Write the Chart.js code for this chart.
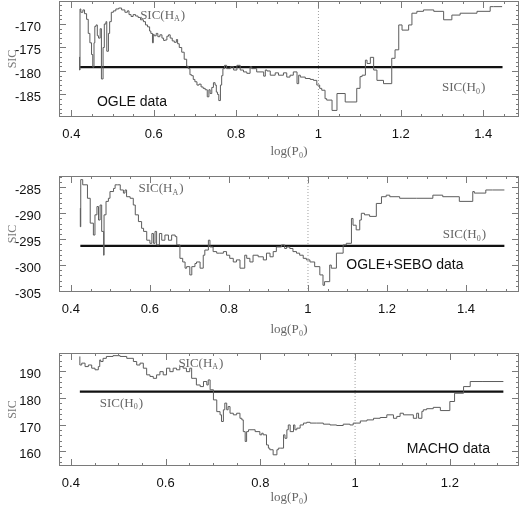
<!DOCTYPE html>
<html>
<head>
<meta charset="utf-8">
<script src="https://cdn.jsdelivr.net/npm/chart.js@4.4.1/dist/chart.umd.min.js"></script>
<style>
  html, body { margin: 0; padding: 0; background: #fff; }
  #wrap { position: relative; width: 524px; height: 509px; overflow: hidden; }
  canvas { position: absolute; left: 0; }
</style>
</head>
<body>
<div id="wrap">
  <canvas id="c1" width="524" height="165" style="top:0px"></canvas>
  <canvas id="c2" width="524" height="175" style="top:165px"></canvas>
  <canvas id="c3" width="524" height="169" style="top:340px"></canvas>
</div>
<script>
// ---- OGLE data ----
const ogleX = [0.420,0.421,0.423,0.428,0.432,0.437,0.441,0.445,0.449,0.452,
  0.455,0.457,0.460,0.463,0.466,0.470,0.473,0.477,0.480,0.484,
  0.486,0.490,0.493,0.497,0.502,0.508,0.515,0.522,0.530,0.536,
  0.540,0.545,0.550,0.556,0.562,0.568,0.575,0.580,0.585,0.590,
  0.593,0.597,0.599,0.601,0.606,0.610,0.615,0.620,0.624,0.628,
  0.632,0.636,0.640,0.645,0.650,0.655,0.658,0.662,0.668,0.674,
  0.680,0.684,0.688,0.692,0.696,0.700,0.705,0.710,0.715,0.720,
  0.725,0.730,0.734,0.737,0.741,0.745,0.749,0.752,0.755,0.758,
  0.762,0.765,0.768,0.772,0.777,0.786,0.794,0.802,0.810,0.818,
  0.826,0.834,0.838,0.850,0.867,0.871,0.875,0.883,0.895,0.903,
  0.915,0.923,0.931,0.939,0.948,0.952,0.956,0.968,0.980,0.988,
  0.996,1.003,1.008,1.016,1.020,1.033,1.045,1.065,1.093,1.101,
  1.106,1.114,1.118,1.126,1.134,1.142,1.158,1.178,1.186,1.195,
  1.203,1.219,1.227,1.239,1.255,1.280,1.304,1.324,1.344,1.385,
  1.417,1.425,1.446];
const ogleSIC = [-177.0,-179.8,-166.8,-167.5,-167.0,-167.8,-169.0,-172.0,-174.0,-176.5,
  -179.2,-174.0,-170.5,-170.2,-172.5,-173.0,-171.0,-181.7,-175.0,-170.0,
  -169.5,-175.8,-172.0,-169.5,-167.5,-167.2,-166.8,-166.6,-167.0,-167.5,
  -167.2,-168.0,-168.4,-168.0,-168.3,-168.6,-169.1,-169.5,-170.2,-170.6,
  -171.5,-172.0,-174.0,-172.2,-172.5,-172.0,-172.7,-172.3,-173.0,-173.5,
  -173.4,-172.6,-172.3,-173.0,-173.6,-173.9,-173.3,-174.2,-175.0,-176.0,
  -177.5,-179.0,-179.5,-180.8,-181.0,-181.8,-182.3,-183.0,-182.8,-183.4,
  -183.7,-184.0,-185.5,-184.0,-184.8,-183.5,-182.5,-183.0,-184.5,-185.0,
  -186.3,-183.0,-181.0,-179.5,-178.8,-179.5,-179.1,-179.8,-178.8,-179.8,
  -180.2,-180.5,-179.1,-179.5,-180.2,-181.1,-179.8,-180.0,-180.9,-180.4,
  -180.9,-180.4,-181.3,-180.9,-180.2,-182.7,-180.9,-181.3,-181.6,-181.8,
  -182.0,-183.0,-183.7,-184.1,-185.9,-186.2,-188.4,-184.8,-186.6,-183.7,
  -181.2,-180.9,-177.7,-178.4,-177.1,-179.8,-182.0,-182.7,-177.3,-175.5,
  -170.2,-171.3,-170.2,-167.7,-167.3,-167.0,-167.3,-169.1,-168.1,-167.7,
  -167.3,-166.3,-166.3];
const ogleH0 = -179.2;
const ogleH0Span = [0.421, 1.447];

// ---- OGLE+SEBO data ----
const seboX = [0.424,0.425,0.430,0.442,0.449,0.457,0.461,0.466,0.470,0.474,
  0.478,0.483,0.484,0.489,0.495,0.499,0.508,0.512,0.518,0.525,
  0.533,0.537,0.541,0.550,0.558,0.563,0.571,0.579,0.584,0.592,
  0.600,0.605,0.609,0.613,0.617,0.624,0.630,0.638,0.647,0.655,
  0.664,0.668,0.676,0.683,0.689,0.693,0.701,0.706,0.714,0.718,
  0.727,0.735,0.739,0.748,0.752,0.760,0.769,0.777,0.786,0.794,
  0.802,0.811,0.819,0.828,0.840,0.845,0.853,0.861,0.874,0.887,
  0.895,0.904,0.912,0.920,0.933,0.941,0.946,0.954,0.962,0.971,
  0.979,0.988,0.996,1.005,1.017,1.030,1.038,1.042,1.055,1.059,
  1.072,1.089,1.097,1.110,1.114,1.122,1.131,1.135,1.143,1.156,
  1.173,1.186,1.198,1.207,1.232,1.274,1.316,1.341,1.383,1.417,
  1.421,1.450,1.467,1.497];
const seboSIC = [-289.0,-292.6,-283.5,-284.5,-287.1,-291.9,-294.2,-290.3,-288.7,-291.3,
  -288.4,-293.5,-298.1,-290.3,-287.7,-287.1,-285.8,-285.2,-284.5,-284.5,
  -285.5,-286.1,-285.5,-286.8,-287.1,-288.4,-290.3,-291.6,-292.9,-293.5,
  -295.2,-295.8,-293.9,-295.8,-293.5,-296.1,-293.9,-295.2,-294.2,-295.2,
  -294.2,-294.5,-296.1,-298.7,-299.4,-300.6,-300.3,-301.9,-300.3,-299.7,
  -299.4,-300.6,-298.1,-297.1,-295.2,-296.5,-297.4,-297.7,-297.7,-297.4,
  -298.1,-298.7,-299.4,-299.0,-300.6,-298.1,-298.7,-299.4,-298.1,-298.4,
  -299.0,-297.7,-298.4,-297.4,-296.5,-296.1,-296.8,-296.5,-296.8,-297.4,
  -297.7,-298.1,-298.7,-299.0,-299.4,-300.3,-301.9,-303.9,-303.2,-300.0,
  -300.6,-297.7,-296.1,-295.8,-291.0,-292.3,-293.2,-291.3,-290.0,-290.3,
  -290.6,-288.1,-286.8,-286.5,-286.8,-287.1,-287.1,-286.5,-286.8,-287.7,
  -285.8,-286.1,-285.5,-285.5];
const seboH0 = -296.3;
const seboH0Span = [0.424, 1.497];

// ---- MACHO data ----
const machoX = [0.419,0.423,0.430,0.437,0.444,0.451,0.458,0.461,0.463,0.468,
  0.475,0.489,0.504,0.518,0.532,0.539,0.546,0.553,0.560,0.567,
  0.574,0.581,0.588,0.595,0.602,0.609,0.616,0.623,0.630,0.637,
  0.644,0.651,0.655,0.658,0.665,0.673,0.680,0.687,0.690,0.694,
  0.701,0.708,0.715,0.718,0.722,0.725,0.729,0.732,0.736,0.743,
  0.750,0.757,0.761,0.764,0.768,0.771,0.775,0.778,0.789,0.799,
  0.803,0.806,0.813,0.817,0.820,0.827,0.835,0.838,0.842,0.849,
  0.852,0.856,0.859,0.863,0.870,0.873,0.877,0.884,0.891,0.898,
  0.905,0.919,0.933,0.947,0.961,0.975,0.989,0.996,1.011,1.025,
  1.039,1.053,1.067,1.081,1.088,1.095,1.102,1.123,1.130,1.134,
  1.141,1.144,1.151,1.165,1.180,1.200,1.210,1.229,1.243,1.268,
  1.313];
const machoSIC = [195.6,192.4,193.1,191.8,192.4,191.2,190.6,191.8,194.3,193.7,
  194.9,195.6,195.9,195.6,194.9,193.7,192.4,193.1,191.2,188.7,
  188.1,187.4,188.7,189.9,188.7,191.2,189.9,191.2,190.6,191.8,
  191.2,189.9,191.2,187.4,187.4,184.9,184.3,186.2,184.9,186.8,
  183.1,179.3,174.9,173.7,171.2,175.6,178.1,175.6,176.8,174.3,
  173.7,174.3,172.4,171.8,167.4,163.7,167.4,168.1,168.1,167.4,
  166.2,166.8,166.2,162.4,161.2,160.6,158.7,160.6,161.2,161.2,
  166.2,164.9,168.1,169.9,167.4,169.9,168.1,168.7,169.9,170.6,
  170.9,170.6,170.6,170.2,169.9,169.7,170.2,169.9,170.6,171.4,
  171.8,172.4,172.7,173.7,172.4,173.1,174.3,173.7,172.4,174.3,
  172.4,175.0,175.6,176.0,176.5,175.3,178.7,181.8,184.3,186.2,
  186.2];
const machoH0 = 182.4;
const machoH0Span = [0.419, 1.313];

// axis ranges and tick labels
const ogleXRange = [0.370, 1.487], ogleYRange = [-189.8, -165.1];
const seboXRange = [0.370, 1.534], seboYRange = [-305.2, -282.8];
const machoXRange = [0.375, 1.346], machoYRange = [154.5, 196.9];
const ogleXTicks = [0.4, 0.6, 0.8, 1, 1.2, 1.4];
const seboXTicks = [0.4, 0.6, 0.8, 1, 1.2, 1.4];
const machoXTicks = [0.4, 0.6, 0.8, 1, 1.2];
const ogleYTicks = [-185, -180, -175, -170];
const seboYTicks = [-305, -300, -295, -290, -285];
const machoYTicks = [160, 170, 180, 190];

const serif = '"Liberation Serif", "DejaVu Serif", serif';
const sans = '"Liberation Sans", Arial, sans-serif';

// frame with inward ticks on all four sides, plus text labels
const framePlugin = {
  id: 'frame',
  afterDatasetsDraw(chart, args, opts) {
    const { ctx, chartArea: a, scales: { x, y } } = chart;
    ctx.save();
    ctx.strokeStyle = '#7a7a7a';
    ctx.lineWidth = 1;
    ctx.strokeRect(a.left + 0.5, a.top + 0.5, a.right - a.left - 1, a.bottom - a.top - 1);

    const tick = (vals, len, horiz) => {
      ctx.beginPath();
      vals.forEach(v => {
        if (horiz) {
          const px = Math.round(x.getPixelForValue(v)) + 0.5;
          if (px < a.left || px > a.right) return;
          ctx.moveTo(px, a.bottom); ctx.lineTo(px, a.bottom - len);
          ctx.moveTo(px, a.top); ctx.lineTo(px, a.top + len);
        } else {
          const py = Math.round(y.getPixelForValue(v)) + 0.5;
          if (py < a.top || py > a.bottom) return;
          ctx.moveTo(a.left, py); ctx.lineTo(a.left + len, py);
          ctx.moveTo(a.right, py); ctx.lineTo(a.right - len, py);
        }
      });
      ctx.stroke();
    };
    const steps = (min, max, step) => {
      const out = [];
      for (let v = Math.ceil(min / step) * step; v <= max + 1e-9; v += step) out.push(+v.toFixed(6));
      return out;
    };
    tick(steps(x.min, x.max, opts.xMinor), 3, true);
    tick(steps(x.min, x.max, opts.xMajor), 7, true);
    tick(steps(y.min, y.max, opts.yMinor), 3, false);
    tick(steps(y.min, y.max, opts.yMajor), 7, false);

    ctx.textBaseline = 'middle';
    ctx.textAlign = 'left';
    (opts.notes || []).forEach(n => {
      let px = x.getPixelForValue(n.x);
      const py = y.getPixelForValue(n.y);
      if (n.sub !== undefined) {
        ctx.fillStyle = '#666';
        ctx.font = '13px ' + serif;
        ctx.fillText('SIC(H', px, py);
        px += ctx.measureText('SIC(H').width;
        ctx.font = '8px ' + serif;
        ctx.fillText(n.sub, px, py + 4);
        px += ctx.measureText(n.sub).width + 1;
        ctx.font = '13px ' + serif;
        ctx.fillText(')', px, py);
      } else {
        ctx.fillStyle = '#111';
        ctx.font = '14px ' + sans;
        ctx.fillText(n.text, px, py);
      }
    });
    ctx.restore();
  }
};

function makePanel(id, p) {
  const curve = p.xs.map((v, i) => ({ x: v, y: p.ys[i] }));
  return new Chart(document.getElementById(id), {
    type: 'line',
    data: {
      datasets: [
        { data: curve, borderColor: '#5c5c5c', borderWidth: 1, pointRadius: 0, stepped: 'after' },
        { data: [{ x: p.h0Span[0], y: p.h0 }, { x: p.h0Span[1], y: p.h0 }],
          borderColor: '#111', borderWidth: 2.2, pointRadius: 0 },
        { data: [{ x: 1, y: p.yRange[0] }, { x: 1, y: p.yRange[1] }],
          borderColor: '#a0a0a0', borderWidth: 1, borderDash: [1, 2], pointRadius: 0 }
      ]
    },
    options: {
      responsive: false,
      animation: false,
      devicePixelRatio: 1,
      layout: { padding: { top: p.padTop, right: 5, left: 0, bottom: 0 } },
      plugins: {
        legend: { display: false },
        tooltip: { enabled: false },
        frame: { xMinor: 0.05, xMajor: 0.2, yMinor: p.yMinor, yMajor: p.yMajor, notes: p.notes }
      },
      scales: {
        x: {
          type: 'linear', min: p.xRange[0], max: p.xRange[1],
          grid: { display: false }, border: { display: false },
          afterBuildTicks: s => { s.ticks = p.xTicks.map(v => ({ value: v })); },
          afterFit: s => { s.height = p.xAxisH; s.paddingLeft = 0; s.paddingRight = 0; },
          ticks: { padding: 2, color: '#111', autoSkip: false, maxRotation: 0,
                   font: { family: sans, size: 13 }, callback: v => String(v) },
          title: { display: true, text: 'log(P₀)', color: '#666',
                   font: { family: serif, size: 13 }, padding: { top: 0, bottom: p.titlePad } }
        },
        y: {
          type: 'linear', min: p.yRange[0], max: p.yRange[1],
          grid: { display: false }, border: { display: false },
          afterBuildTicks: s => { s.ticks = p.yTicks.map(v => ({ value: v })); },
          afterFit: s => { s.width = 59; s.paddingTop = 0; s.paddingBottom = 0; },
          // empty first line nudges each label a few pixels below its tick, as in the original
          ticks: { padding: 10, color: '#111', font: { family: sans, size: 13, lineHeight: 0.5 },
                   callback: v => ['', String(v)] },
          title: { display: true, text: 'SIC', color: '#777',
                   font: { family: serif, size: 12 }, padding: { top: 6, bottom: 0 } }
        }
      }
    },
    plugins: [framePlugin]
  });
}

makePanel('c1', {
  xs: ogleX, ys: ogleSIC, h0: ogleH0, h0Span: ogleH0Span,
  xRange: ogleXRange, yRange: ogleYRange, xTicks: ogleXTicks, yTicks: ogleYTicks,
  yMinor: 1, yMajor: 5, padTop: 1, xAxisH: 48, titlePad: 6,
  notes: [
    { sub: 'A', x: 0.567, y: -168.1 },
    { sub: '0', x: 1.300, y: -183.5 },
    { text: 'OGLE data', x: 0.462, y: -186.6 }
  ]
});

makePanel('c2', {
  xs: seboX, ys: seboSIC, h0: seboH0, h0Span: seboH0Span,
  xRange: seboXRange, yRange: seboYRange, xTicks: seboXTicks, yTicks: seboYTicks,
  yMinor: 1, yMajor: 5, padTop: 11, xAxisH: 48, titlePad: 3,
  notes: [
    { sub: 'A', x: 0.571, y: -285.2 },
    { sub: '0', x: 1.341, y: -294.2 },
    { text: 'OGLE+SEBO data', x: 1.097, y: -300.0 }
  ]
});

makePanel('c3', {
  xs: machoX, ys: machoSIC, h0: machoH0, h0Span: machoH0Span,
  xRange: machoXRange, yRange: machoYRange, xTicks: machoXTicks, yTicks: machoYTicks,
  yMinor: 2, yMajor: 10, padTop: 13, xAxisH: 43, titlePad: 4,
  notes: [
    { sub: 'A', x: 0.627, y: 193.1 },
    { sub: '0', x: 0.461, y: 178.1 },
    { text: 'MACHO data', x: 1.109, y: 160.9 }
  ]
});
</script>
</body>
</html>
